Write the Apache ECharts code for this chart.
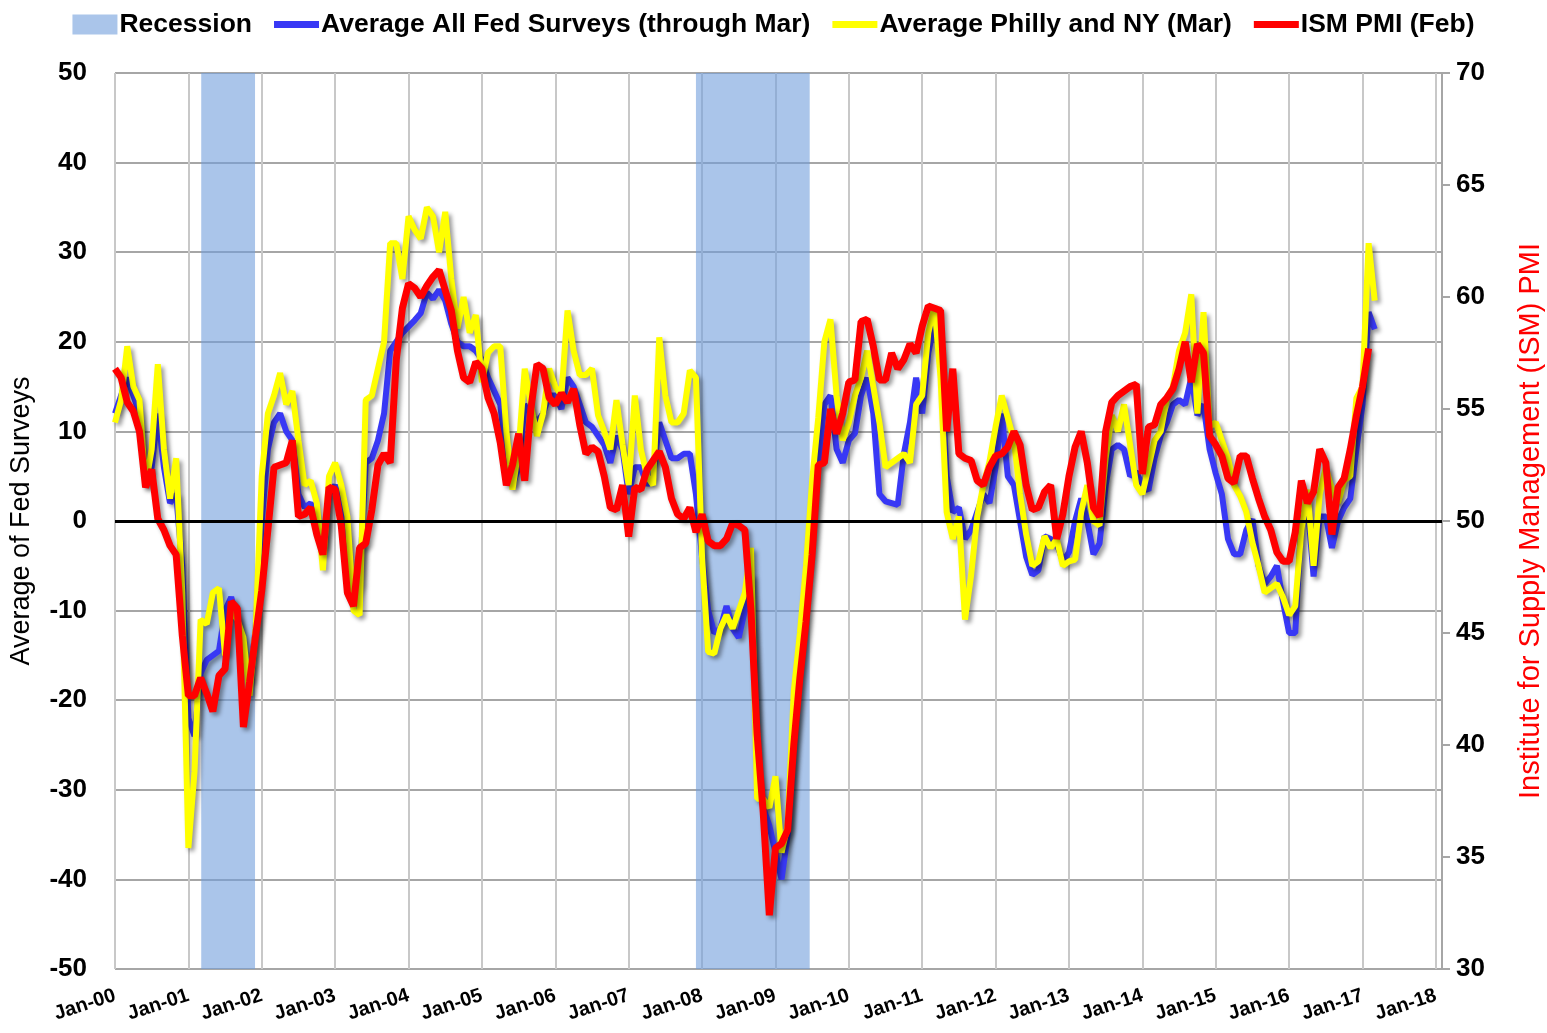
<!DOCTYPE html>
<html>
<head>
<meta charset="utf-8">
<script src="https://cdn.jsdelivr.net/npm/echarts@6/dist/echarts.min.js"></script>
<style>
  html, body { margin: 0; padding: 0; background: #fff; }
  #main { width: 1547px; height: 1033px; }
</style>
</head>
<body>
<div id="main"></div>
<script>
// monthly series, first value = Jan 2000
var fedAll = [
  12, 14, 16, 14, 12, 5, 6, 12, 6, 2, 3, -5,
  -22, -24, -17, -15.5, -15, -14.5, -10, -8.5, -11, -14, -18, -12,
  0, 8, 11, 12, 10, 9, 3, 1.5, 2, 0, -3, 3,
  4, 1.5, -2, -9, -7, 6.5, 7, 9, 12, 19, 20, 21,
  21.7, 22.4, 23.2, 25.5, 24.8, 25.8, 24.6, 22, 20, 19.5, 19.5, 19,
  18, 16, 14.5, 13, 7, 4, 6, 13, 12, 11, 12, 14,
  14, 12.5, 16, 15, 13, 11, 10.5, 9.5, 8.5, 6.5, 9.5, 8,
  3, 6, 6, 4, 5, 11, 9, 7, 7, 7.5, 7.5, 3,
  -4, -10, -12.5, -12, -9.5, -12, -13, -10, -6, -28, -32, -34,
  -37, -40, -35, -25, -17, -9, -2, 6, 13, 14, 8, 6.5,
  9, 9.8, 14, 16, 12, 3, 2.2, 2, 1.8, 7.5, 11, 16,
  12, 18.8, 22, 18, 5, 1, 1.5, -2, -1, 1, 3, 2,
  6, 12, 5, 4, 0, -4, -6, -5.5, -1.7, -2, -2.5, -4.5,
  -3.5, 0, 2.5, 0, -3.7, -2.5, 4, 8, 8.5, 8, 5, 5.5,
  4, 3.4, 7, 9.5, 11, 13, 13.5, 13, 16, 11.8, 13, 8,
  5.3, 3, -2, -3.7, -3.7, -1, 0.2, -5, -7, -6.2, -5, -9,
  -12.5, -12.5, 0, 2, -6.2, 0.5, 0.5, -3, 0, 1.5, 2.5, 8,
  13, 23.3, 21.4
];
var phillyNY = [
  11, 13.5, 19.5, 15, 13.5, 4, 8, 17.5, 8, 2.5, 7, -8,
  -36.5, -28, -11, -11.5, -8, -7.5, -15, -10, -11, -13, -19.5, -12,
  5, 12, 14, 16.5, 13, 14.5, 9, 4, 4.5, 2, -5.5, 5,
  6.5, 4, 0.5, -10, -10.5, 13.5, 14, 17, 20, 31, 31, 27,
  34, 32.5, 31.5, 35, 34, 30, 34.5, 27, 21.5, 25, 21, 23,
  15.5, 18.8, 19.5, 19.5, 10, 3.5, 8, 17, 13, 9.5, 12, 17,
  15, 14, 23.5, 19, 16.3, 16.3, 17, 11.8, 10, 8, 13.5, 8.5,
  4, 14, 8, 5, 4, 20.5, 14, 11, 11, 12, 16.8, 16,
  -4, -14.6, -14.8, -12, -10.5, -12, -10, -8, -3, -31, -31, -32,
  -28.5, -37, -34, -19, -12.5, -5, 4.5, 11.5, 20, 22.5, 14, 9,
  11, 14, 16, 19, 15, 11, 6, 6.5, 7, 7.5, 6.5, 13,
  14, 21, 24, 16, 1, -2, 0.5, -11, -6, 0.5, 4, 6.6,
  10.5, 14, 11.5, 9, 3, -1.5, -5, -4.5, -1.7, -3, -2, -5,
  -4.5, -4.3, 1, 4, 0, -0.5, 7, 11.8, 10, 13, 8.5, 4,
  3, 6, 9, 10, 13.7, 15, 19, 21, 25.3, 12, 23.3, 10.5,
  11, 9, 7, 4, 2.8, 1, -2.4, -5, -8, -7.5, -7, -8.5,
  -10.5, -9.5, -1, 3.5, -5, 3, 6, 3.5, 2, 4.5, 5, 13.7,
  15, 31, 24.6
];
var ismPmi = [
  56.8, 56.4, 55.3, 54.9, 54.0, 51.5, 52.3, 50.1, 49.6, 48.9, 48.5, 44.9,
  42.2, 42.2, 43.0, 42.3, 41.5, 43.1, 43.4, 46.4, 46.1, 40.8, 42.8, 44.9,
  46.9, 49.6, 52.4, 52.5, 52.6, 53.6, 50.2, 50.3, 50.6, 49.4, 48.5, 51.5,
  51.4, 49.8, 46.8, 46.2, 48.8, 49.0, 50.5, 52.5, 53.0, 52.6, 57.2, 59.5,
  60.6, 60.4, 60.0, 60.5, 60.9, 61.2, 60.3, 59.4, 57.6, 56.4, 56.2, 57.1,
  56.8, 55.5, 54.8, 53.5, 51.6, 52.5, 53.9, 51.8, 55.0, 57.0, 56.8, 55.5,
  55.2, 55.7, 55.3, 55.9, 54.3, 53.0, 53.3, 53.1, 52.0, 50.6, 50.5, 51.6,
  49.3, 51.5, 51.4, 52.3, 52.7, 53.1, 52.4, 51.0, 50.3, 50.1, 50.6, 49.5,
  50.3, 49.1, 48.9, 48.9, 49.2, 49.9, 49.8, 49.6, 46.0, 40.5, 37.0, 32.4,
  35.4, 35.6, 36.2, 40.0, 43.0, 45.5, 48.5, 52.5, 52.6, 55.0, 53.9, 54.8,
  56.2, 56.3, 58.9, 59.0, 57.8, 56.3, 56.3, 57.5, 56.8, 57.2, 57.9, 57.5,
  58.7, 59.6, 59.5, 59.4, 54.0, 56.8, 53.0, 52.8, 52.7, 51.8, 51.6, 52.4,
  52.9, 53.0, 53.3, 54.0, 53.4, 51.6, 50.5, 50.6, 51.3, 51.6, 49.2, 50.3,
  52.0, 53.3, 54.0, 52.6, 50.6, 50.2, 54.0, 55.3, 55.6, 55.8, 56.0, 56.1,
  52.1, 54.2, 54.3, 55.2, 55.5, 55.9, 56.8, 58.0, 56.2, 57.9, 57.5, 53.8,
  53.4, 52.9, 51.9, 51.7, 52.9, 52.9, 51.9, 51.0, 50.2, 49.6, 48.6, 48.2,
  48.2, 49.5, 51.8, 50.8, 51.3, 53.2, 52.6, 49.4, 51.5, 51.9, 53.2, 54.7,
  56.0, 57.7
];
// recession spans, in months from Jan 2000
var recessions = [[14.1, 22.9], [95, 113.6]];
var seriesNames = ['Average All Fed Surveys (through Mar)', 'Average Philly and NY (Mar)', 'ISM PMI (Feb)'];
var seriesColors = ['#3838f5', '#ffff00', '#ff0000'];

function toPoints(arr) {
  return arr.map(function (v, i) { return [i, v]; });
}

var lineShadow = {
  shadowColor: 'rgba(0,0,0,0.4)',
  shadowBlur: 4,
  shadowOffsetX: 3,
  shadowOffsetY: 3
};

// thick bar used as legend icon for the lines
var lineIcon = 'path://M0,0 L45,0 L45,7 L0,7 Z';

var myChart = echarts.init(document.getElementById('main'));
myChart.setOption({
  animation: false,
  backgroundColor: '#fff',
  textStyle: { fontFamily: 'Liberation Sans' },
  grid: {
    left: 115,
    right: 105,
    top: 73,
    bottom: 64,
    containLabel: false,
    outerBoundsMode: 'none'
  },
  legend: {
    top: 6,
    left: 'center',
    itemWidth: 45,
    itemHeight: 20,
    itemGap: 22,
    textStyle: { fontSize: 26.5, fontWeight: 'bold', color: '#000', padding: [0, 0, 0, -3] },
    data: [
      { name: 'Recession', icon: 'rect', itemStyle: { color: '#aac5ea' } },
      { name: seriesNames[0], icon: lineIcon, itemStyle: { color: seriesColors[0] } },
      { name: seriesNames[1], icon: lineIcon, itemStyle: { color: seriesColors[1] } },
      { name: seriesNames[2], icon: lineIcon, itemStyle: { color: seriesColors[2] } }
    ]
  },
  xAxis: {
    type: 'value',
    min: 0,
    max: 217,
    interval: 12,
    axisLine: { show: false },
    axisTick: { show: false },
    axisLabel: {
      rotate: 18,
      margin: 26,
      fontSize: 20,
      fontWeight: 'bold',
      color: '#000',
      formatter: function (v) {
        if (v % 12 !== 0) return '';
        var yy = (2000 + v / 12) % 100;
        return 'Jan-' + (yy < 10 ? '0' : '') + yy;
      }
    },
    splitLine: { show: true, lineStyle: { color: '#c8c8c8', width: 2 } }
  },
  yAxis: [
    {
      type: 'value',
      min: -50,
      max: 50,
      interval: 10,
      name: 'Average of Fed Surveys',
      nameLocation: 'middle',
      nameRotate: 90,
      nameGap: 80,
      nameTextStyle: { fontSize: 27, color: '#000' },
      axisLine: { show: false },
      axisTick: { show: false },
      axisLabel: { fontSize: 26, fontWeight: 'bold', color: '#000', margin: 28 },
      splitLine: { show: true, lineStyle: { color: '#a6a6a6', width: 2 } }
    },
    {
      type: 'value',
      min: 30,
      max: 70,
      interval: 5,
      position: 'right',
      name: 'Institute for Supply Management (ISM) PMI',
      nameLocation: 'middle',
      nameRotate: 90,
      nameGap: 74,
      nameTextStyle: { fontSize: 29, color: '#ff0000' },
      axisLine: { show: true, lineStyle: { color: '#a6a6a6', width: 2 } },
      axisTick: { show: true, length: 8, lineStyle: { color: '#a6a6a6', width: 2 } },
      axisLabel: { fontSize: 26, fontWeight: 'bold', color: '#000', margin: 14 },
      splitLine: { show: false }
    }
  ],
  series: [
    {
      name: 'Recession',
      type: 'line',
      data: [],
      itemStyle: { color: '#aac5ea' },
      markArea: {
        silent: true,
        itemStyle: { color: 'rgba(113,158,220,0.6)' },
        data: recessions.map(function (r) {
          return [{ xAxis: r[0] }, { xAxis: r[1] }];
        })
      }
    },
    {
      name: seriesNames[0],
      type: 'line',
      data: toPoints(fedAll),
      symbol: 'none',
      color: seriesColors[0],
      lineStyle: Object.assign({ width: 6, color: seriesColors[0] }, lineShadow),
      markLine: {
        silent: true,
        symbol: 'none',
        label: { show: false },
        lineStyle: { color: '#000', width: 3, type: 'solid', shadowBlur: 0, shadowOffsetX: 0, shadowOffsetY: 0 },
        data: [{ yAxis: 0 }]
      }
    },
    {
      name: seriesNames[1],
      type: 'line',
      data: toPoints(phillyNY),
      symbol: 'none',
      color: seriesColors[1],
      lineStyle: Object.assign({ width: 6, color: seriesColors[1] }, lineShadow)
    },
    {
      name: seriesNames[2],
      type: 'line',
      yAxisIndex: 1,
      data: toPoints(ismPmi),
      symbol: 'none',
      color: seriesColors[2],
      lineStyle: Object.assign({ width: 7, color: seriesColors[2] }, lineShadow)
    }
  ]
});
</script>
</body>
</html>
